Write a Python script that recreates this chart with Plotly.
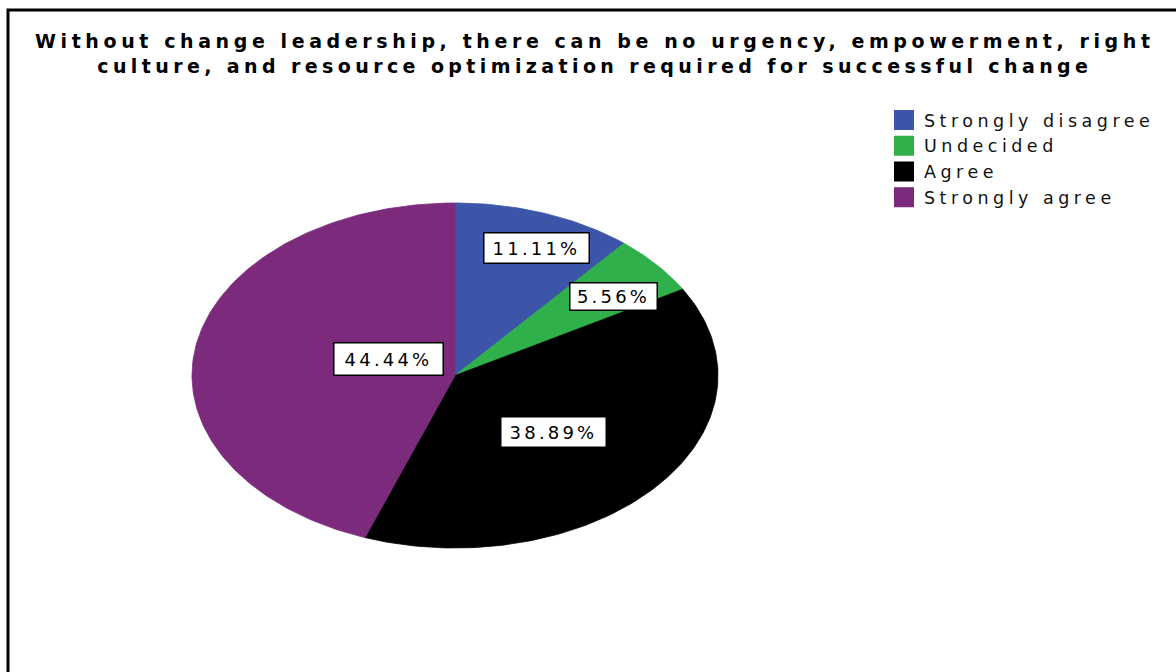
import numpy as np
import plotly.graph_objects as go

# ---- data ----
categories = ["Strongly disagree", "Undecided", "Agree", "Strongly agree"]
percentages = [11.11, 5.56, 38.89, 44.44]
colors = ["#3C55A8", "#30B04A", "#000000", "#7B2A7C"]
title_lines = [
    "Without change leadership, there can be no urgency, empowerment, right",
    "culture, and resource optimization required for successful change",
]

W, H = 1176, 672
# pie geometry (pixel space on hidden axes)
CX, CY, RX, RY = 455, 375.5, 263, 172.5

# label box centres and sizes (layout)
label_pos = [(536, 248), (613, 296), (553, 432), (333, 359)]
label_box = [(100, 25), (82, 22), (100, 25), (104, 27)]


def sp(text, ls):
    return f'<span style="letter-spacing:{ls}px">{text}</span>'


fig = go.Figure()

total = sum(percentages)
start = 0.0
for cat, val, col in zip(categories, percentages, colors):
    end = start + val / total
    t = np.linspace(start, end, max(int(400 * (end - start)), 8)) * 2 * np.pi
    xs = np.concatenate([[CX], CX + RX * np.sin(t), [CX]])
    ys = np.concatenate([[CY], CY - RY * np.cos(t), [CY]])
    fig.add_trace(go.Scatter(
        x=xs, y=ys, mode="lines", fill="toself", fillcolor=col,
        line=dict(color=col, width=0.8), showlegend=False,
        legendgroup=cat, hoverinfo="skip"))
    start = end

# legend entries
for cat, col in zip(categories, colors):
    fig.add_trace(go.Scatter(
        x=[None], y=[None], mode="markers", name=sp(cat, 4.5),
        legendgroup=cat,
        marker=dict(symbol="square", size=16, color=col,
                    line=dict(color=col, width=4))))

# percentage labels
for val, (lx, ly), (bw, bh) in zip(percentages, label_pos, label_box):
    fig.add_annotation(
        x=lx / W, y=1 - ly / H, xref="paper", yref="paper",
        text=sp(f"{val:.2f}%", 3.2), showarrow=False,
        font=dict(family="DejaVu Sans", size=18, color="#000"),
        bgcolor="white", bordercolor="#000", borderwidth=1.5,
        borderpad=2, width=bw, height=bh, align="center")

# title (two centred bold lines)
fig.add_annotation(
    x=595 / W, y=1 - 53 / H, xref="paper", yref="paper",
    xanchor="center", yanchor="middle", showarrow=False, align="center",
    text=sp(title_lines[0], 4.6) + "<br>" + sp(title_lines[1], 4.4),
    font=dict(family="DejaVu Sans", size=19, color="#000", weight="bold"))

# outer frame (open at right/bottom like the reference)
fig.add_shape(type="rect", xref="paper", yref="paper",
              x0=8 / W, x1=1.02, y0=-0.02, y1=1 - 10 / H,
              line=dict(color="#000", width=3), fillcolor="rgba(0,0,0,0)")

fig.update_layout(
    width=W, height=H,
    margin=dict(l=0, r=0, t=0, b=0),
    paper_bgcolor="white", plot_bgcolor="white",
    xaxis=dict(range=[0, W], visible=False, fixedrange=True, domain=[0, 1]),
    yaxis=dict(range=[H, 0], visible=False, fixedrange=True, domain=[0, 1]),
    legend=dict(x=884 / W, y=1 - 102 / H, xanchor="left", yanchor="top",
                font=dict(family="DejaVu Sans", size=17.5, color="#111"),
                bgcolor="rgba(0,0,0,0)", tracegroupgap=0, itemsizing="trace"),
    showlegend=True,
)

fig.write_html("out.html")
